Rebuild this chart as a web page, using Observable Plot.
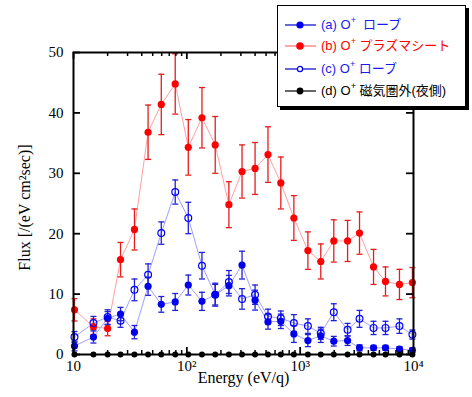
<!DOCTYPE html>
<html>
<head>
<meta charset="utf-8">
<script src="https://cdn.jsdelivr.net/npm/d3@7"></script>
<script src="https://cdn.jsdelivr.net/npm/@observablehq/plot@0.6"></script>
<style>
  html, body { margin: 0; padding: 0; background: #fff; }
  #wrap { position: relative; width: 472px; height: 397px; overflow: hidden; }
  #legend {
    position: absolute; left: 277px; top: 5px; width: 187px; height: 100px;
    border: 1px solid #000; box-shadow: 3px 3px 0 #000; background: #fff;
    font-family: "Liberation Sans", "Noto Sans CJK JP", sans-serif; font-size: 13px;
  }
  .row { position: absolute; left: 0; height: 20px; width: 187px; }
  .row svg { position: absolute; left: 6px; top: 5px; }
  .row span { position: absolute; left: 43px; top: 1px; white-space: nowrap; line-height: 18px; }
  .row sup { font-size: 9px; vertical-align: 0; position: relative; top: -6px; }
</style>
</head>
<body>
<div id="wrap"></div>
<script>
// Energy steps (eV/q)
const energy = [10.2, 15, 20, 26, 34.5, 45.5, 59.5, 79, 103, 136, 178, 235, 307, 400, 520, 675, 880, 1170, 1520, 1980, 2620, 3340, 4440, 5660, 7520, 9780];

// (a) O+ lobe (filled blue)
const fluxA = [1.4, 2.9, 6.0, 6.7, 3.7, 11.3, 8.3, 8.7, 11.5, 8.8, 9.9, 11.4, 14.8, 9.0, 5.4, 5.5, 3.4, 2.3, 3.1, 2.2, 2.3, 1.1, 1.1, 1.1, 0.9, 0.7];
const errA  = [0.8, 1.0, 1.1, 1.1, 1.1, 1.5, 1.3, 1.4, 1.65, 1.5, 1.9, 1.7, 2.3, 1.65, 1.2, 1.2, 1.4, 1.0, 1.1, 0.8, 0.8, 0.5, 0.4, 0.4, 0.4, 0.4];

// (b) O+ plasma sheet (red)
const fluxB = [7.4, 4.6, 4.3, 15.7, 20.7, 36.8, 41.4, 44.8, 34.3, 39.2, 34.7, 24.8, 30.3, 30.8, 33.1, 28.4, 22.6, 17.2, 15.4, 18.8, 18.8, 20.1, 14.5, 12.1, 11.6, 11.9];
const errB  = [1.85, 1.3, 1.2, 2.85, 3.4, 4.5, 5.0, 5.0, 4.6, 5.0, 4.7, 3.8, 4.4, 4.3, 4.6, 4.3, 3.7, 3.1, 2.9, 3.5, 3.4, 3.5, 2.9, 2.4, 2.5, 2.5];

// (c) O+ lobe (open blue)
const fluxC = [2.9, 5.2, 6.2, 5.6, 10.7, 13.2, 20.1, 26.9, 22.6, 14.7, 9.9, 12.0, 9.2, 9.9, 6.3, 6.0, 5.2, 4.7, 3.5, 7.0, 4.1, 5.9, 4.4, 4.4, 4.7, 3.3];
const errC  = [0.9, 1.1, 1.2, 1.1, 1.8, 1.8, 1.85, 2.0, 2.6, 2.2, 1.7, 1.9, 1.7, 1.6, 1.2, 1.2, 1.4, 1.2, 1.0, 1.4, 1.05, 1.4, 1.1, 1.1, 1.2, 0.75];

// (d) O+ outside magnetosphere (night side)
const fluxD = [0, 0, 0, 0, 0, 0, 0, 0, 0, 0, 0, 0, 0, 0, 0, 0, 0, 0, 0, 0, 0, 0, 0, 0, 0, 0];

// Axes ticks
const xMajor = [10, 100, 1000, 10000];
const xMajorLabels = ["10", "10²", "10³", "10⁴"];
const xMinor = [20, 30, 40, 50, 60, 70, 80, 90, 200, 300, 400, 500, 600, 700, 800, 900, 2000, 3000, 4000, 5000, 6000, 7000, 8000, 9000];
const yTicks = [0, 10, 20, 30, 40, 50];
const xLabel = "Energy (eV/q)";
const yLabel = "Flux [/(eV cm²sec)]";

const rows = (flux, err) => energy.map((E, i) => ({E, v: flux[i], lo: flux[i] - (err ? err[i] : 0), hi: flux[i] + (err ? err[i] : 0)}));
const A = rows(fluxA, errA), B = rows(fluxB, errB), C = rows(fluxC, errC), D = rows(fluxD, null);

const cap = {draw(ctx, size) { const r = Math.sqrt(size / Math.PI); ctx.moveTo(-r, 0); ctx.lineTo(r, 0); }};

function errMarks(data, color) {
  return [
    Plot.ruleX(data, {x: "E", y1: "lo", y2: "hi", stroke: color, strokeWidth: 1.3}),
    Plot.dot(data, {x: "E", y: "lo", symbol: cap, r: 3, stroke: color, fill: "none", strokeWidth: 1.3}),
    Plot.dot(data, {x: "E", y: "hi", symbol: cap, r: 3, stroke: color, fill: "none", strokeWidth: 1.3})
  ];
}

const plotH = 397 - 52 - 43, plotW = 472 - 73 - 59;

const chart = Plot.plot({
  width: 472, height: 397,
  marginLeft: 73, marginRight: 59, marginTop: 52, marginBottom: 43,
  x: {type: "log", domain: [10, 10000]},
  y: {domain: [0, 50]},
  style: {fontFamily: '"Liberation Serif", "Times New Roman", serif', fontSize: "15px", color: "#000", background: "#fff", overflow: "visible"},
  marks: [
    // lines
    Plot.line(B, {x: "E", y: "v", stroke: "#ffa0a0", strokeWidth: 1}),
    Plot.line(C, {x: "E", y: "v", stroke: "#a0a0ff", strokeWidth: 1}),
    Plot.line(A, {x: "E", y: "v", stroke: "#a0a0ff", strokeWidth: 1}),
    // error bars
    ...errMarks(B, "#e81c1c"),
    ...errMarks(C, "#2020d8"),
    ...errMarks(A, "#2020d8"),
    // points
    Plot.dot(B, {x: "E", y: "v", r: 3.6, fill: "#ff0000"}),
    Plot.dot(C, {x: "E", y: "v", r: 3.4, fill: "none", stroke: "#0000ff", strokeWidth: 1.2}),
    Plot.dot(A, {x: "E", y: "v", r: 3.6, fill: "#0000ee"}),
    // frame and inward ticks
    Plot.frame({stroke: "#000", strokeWidth: 2}),
    Plot.tickX(xMajor, {x: d => d, insetTop: plotH - 7, stroke: "#000", strokeWidth: 1.8}),
    Plot.tickX(xMajor, {x: d => d, insetBottom: plotH - 7, stroke: "#000", strokeWidth: 1.8}),
    Plot.tickX(xMinor, {x: d => d, insetTop: plotH - 4, stroke: "#000", strokeWidth: 1.5}),
    Plot.tickX(xMinor, {x: d => d, insetBottom: plotH - 4, stroke: "#000", strokeWidth: 1.5}),
    Plot.tickY(yTicks, {y: d => d, insetRight: plotW - 7, stroke: "#000", strokeWidth: 1.8}),
    Plot.tickY(yTicks, {y: d => d, insetLeft: plotW - 7, stroke: "#000", strokeWidth: 1.8}),
    // (d) black series on the axis
    Plot.line(D, {x: "E", y: "v", stroke: "#000", strokeWidth: 1}),
    Plot.dot(D, {x: "E", y: "v", r: 3, fill: "#000"}),
    // axes
    Plot.axisX(xMajor, {tickSize: 0, tickPadding: 6, tickFormat: d => xMajorLabels[xMajor.indexOf(d)], label: null, fontSize: 15}),
    Plot.axisY(yTicks, {tickSize: 0, tickPadding: 10, label: null, fontSize: 15}),
    Plot.text([xLabel], {text: d => d, frameAnchor: "bottom", dy: 28, fontSize: 16}),
    Plot.text([yLabel], {text: d => d, frameAnchor: "left", textAnchor: "middle", dx: -49, dy: 4, rotate: -90, fontSize: 16})
  ]
});

const wrap = document.getElementById("wrap");
wrap.appendChild(chart);

// Legend
const legendItems = [
  {label: "(a) O", tail: "&nbsp; ローブ", color: "#1a1aee", line: "#0000cc", fill: "#0000ee", stroke: "none", r: 3.6},
  {label: "(b) O", tail: " プラズマシート", color: "#ff0000", line: "#ff6a6a", fill: "#ff0000", stroke: "none", r: 3.8},
  {label: "(c) O", tail: " ローブ", color: "#1a1aee", line: "#0000cc", fill: "#fff", stroke: "#0000ee", r: 2.6},
  {label: "(d) O", tail: " 磁気圏外(夜側)", color: "#000", line: "#000", fill: "#000", stroke: "none", r: 3.4}
];
const rowTops = [9, 30, 53, 75];
const leg = document.createElement("div");
leg.id = "legend";
legendItems.forEach((it, i) => {
  const row = document.createElement("div");
  row.className = "row";
  row.style.top = rowTops[i] + "px";
  row.innerHTML =
    `<svg width="34" height="10"><line x1="1" y1="5" x2="32" y2="5" stroke="${it.line}" stroke-width="1.2"/>` +
    `<circle cx="16" cy="5" r="${it.r}" fill="${it.fill}" stroke="${it.stroke}" stroke-width="1.2"/></svg>` +
    `<span style="color:${it.color}">${it.label}<sup>+</sup>${it.tail}</span>`;
  leg.appendChild(row);
});
wrap.appendChild(leg);
</script>
</body>
</html>
